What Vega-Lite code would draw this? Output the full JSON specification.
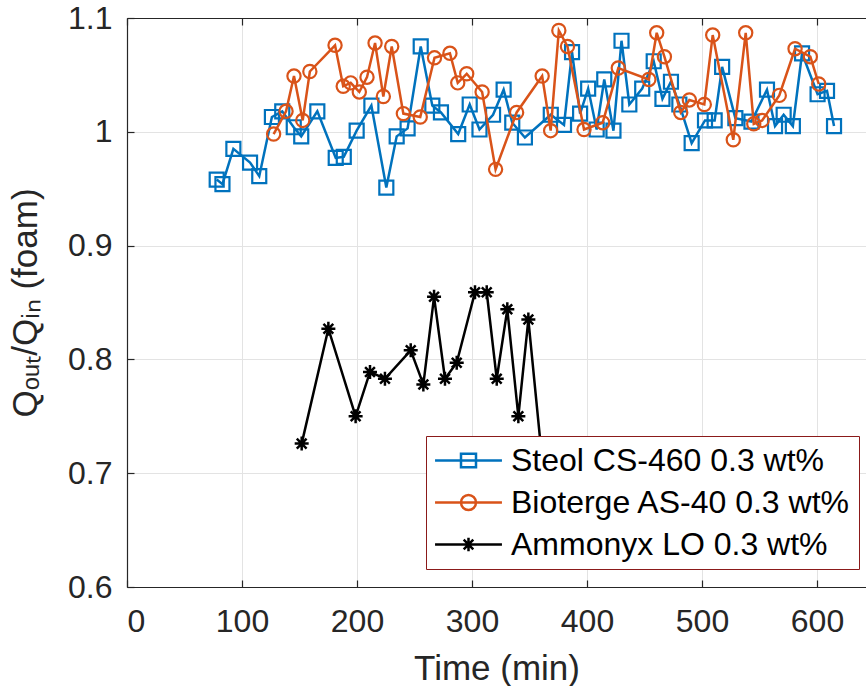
{
  "$schema": "https://vega.github.io/schema/vega-lite/v6.json",
  "width": 739,
  "height": 569,
  "autosize": {"type": "none"},
  "padding": {"left": 127, "top": 18, "right": 0, "bottom": 99},
  "background": "white",
  "config": {
    "view": {"stroke": null},
    "font": "Liberation Sans",
    "axis": {
      "labelFont": "Liberation Sans",
      "labelFontSize": 32,
      "labelColor": "#262626",
      "titleFont": "Liberation Sans",
      "titleFontSize": 35,
      "titleFontWeight": "normal",
      "titleColor": "#262626",
      "gridColor": "#e3e3e3",
      "gridWidth": 1,
      "domainColor": "#262626",
      "domainWidth": 1.2,
      "tickColor": "#262626",
      "tickWidth": 1.2,
      "tickSize": -7
    }
  },
  "data": {
    "values": [
      {"s": "Steol CS-460 0.3 wt%", "t": 78, "v": 0.958},
      {"s": "Steol CS-460 0.3 wt%", "t": 83, "v": 0.954},
      {"s": "Steol CS-460 0.3 wt%", "t": 92.5, "v": 0.985},
      {"s": "Steol CS-460 0.3 wt%", "t": 107, "v": 0.973},
      {"s": "Steol CS-460 0.3 wt%", "t": 115, "v": 0.961},
      {"s": "Steol CS-460 0.3 wt%", "t": 126, "v": 1.013},
      {"s": "Steol CS-460 0.3 wt%", "t": 135, "v": 1.018},
      {"s": "Steol CS-460 0.3 wt%", "t": 145, "v": 1.004},
      {"s": "Steol CS-460 0.3 wt%", "t": 151.5, "v": 0.996},
      {"s": "Steol CS-460 0.3 wt%", "t": 165.5, "v": 1.018},
      {"s": "Steol CS-460 0.3 wt%", "t": 181.5, "v": 0.977},
      {"s": "Steol CS-460 0.3 wt%", "t": 188.5, "v": 0.978},
      {"s": "Steol CS-460 0.3 wt%", "t": 199.7, "v": 1.001},
      {"s": "Steol CS-460 0.3 wt%", "t": 212.5, "v": 1.023},
      {"s": "Steol CS-460 0.3 wt%", "t": 225.5, "v": 0.951},
      {"s": "Steol CS-460 0.3 wt%", "t": 234.5, "v": 0.996},
      {"s": "Steol CS-460 0.3 wt%", "t": 244, "v": 1.003},
      {"s": "Steol CS-460 0.3 wt%", "t": 255.4, "v": 1.075},
      {"s": "Steol CS-460 0.3 wt%", "t": 265.5, "v": 1.023},
      {"s": "Steol CS-460 0.3 wt%", "t": 273, "v": 1.017},
      {"s": "Steol CS-460 0.3 wt%", "t": 288, "v": 0.998},
      {"s": "Steol CS-460 0.3 wt%", "t": 298, "v": 1.024},
      {"s": "Steol CS-460 0.3 wt%", "t": 306.5, "v": 1.002},
      {"s": "Steol CS-460 0.3 wt%", "t": 318.3, "v": 1.015},
      {"s": "Steol CS-460 0.3 wt%", "t": 327.5, "v": 1.037},
      {"s": "Steol CS-460 0.3 wt%", "t": 335, "v": 1.008},
      {"s": "Steol CS-460 0.3 wt%", "t": 346, "v": 0.995},
      {"s": "Steol CS-460 0.3 wt%", "t": 368.5, "v": 1.015},
      {"s": "Steol CS-460 0.3 wt%", "t": 380, "v": 1.006},
      {"s": "Steol CS-460 0.3 wt%", "t": 387, "v": 1.07},
      {"s": "Steol CS-460 0.3 wt%", "t": 394, "v": 1.016},
      {"s": "Steol CS-460 0.3 wt%", "t": 401, "v": 1.038},
      {"s": "Steol CS-460 0.3 wt%", "t": 408.4, "v": 1.002},
      {"s": "Steol CS-460 0.3 wt%", "t": 415, "v": 1.046},
      {"s": "Steol CS-460 0.3 wt%", "t": 423, "v": 1.001},
      {"s": "Steol CS-460 0.3 wt%", "t": 430, "v": 1.08},
      {"s": "Steol CS-460 0.3 wt%", "t": 436.8, "v": 1.024},
      {"s": "Steol CS-460 0.3 wt%", "t": 448, "v": 1.038},
      {"s": "Steol CS-460 0.3 wt%", "t": 458, "v": 1.062},
      {"s": "Steol CS-460 0.3 wt%", "t": 465.6, "v": 1.029},
      {"s": "Steol CS-460 0.3 wt%", "t": 473, "v": 1.044},
      {"s": "Steol CS-460 0.3 wt%", "t": 480.3, "v": 1.024},
      {"s": "Steol CS-460 0.3 wt%", "t": 491, "v": 0.99},
      {"s": "Steol CS-460 0.3 wt%", "t": 502.6, "v": 1.01},
      {"s": "Steol CS-460 0.3 wt%", "t": 511, "v": 1.01},
      {"s": "Steol CS-460 0.3 wt%", "t": 517.5, "v": 1.057},
      {"s": "Steol CS-460 0.3 wt%", "t": 529, "v": 1.012},
      {"s": "Steol CS-460 0.3 wt%", "t": 543, "v": 1.009},
      {"s": "Steol CS-460 0.3 wt%", "t": 556.5, "v": 1.037},
      {"s": "Steol CS-460 0.3 wt%", "t": 563.5, "v": 1.005},
      {"s": "Steol CS-460 0.3 wt%", "t": 571, "v": 1.015},
      {"s": "Steol CS-460 0.3 wt%", "t": 579, "v": 1.005},
      {"s": "Steol CS-460 0.3 wt%", "t": 587, "v": 1.069},
      {"s": "Steol CS-460 0.3 wt%", "t": 600.5, "v": 1.033},
      {"s": "Steol CS-460 0.3 wt%", "t": 608.7, "v": 1.036},
      {"s": "Steol CS-460 0.3 wt%", "t": 614.8, "v": 1.005},
      {"s": "Bioterge AS-40 0.3 wt%", "t": 127.5, "v": 0.998},
      {"s": "Bioterge AS-40 0.3 wt%", "t": 138.3, "v": 1.018},
      {"s": "Bioterge AS-40 0.3 wt%", "t": 145.2, "v": 1.049},
      {"s": "Bioterge AS-40 0.3 wt%", "t": 152.8, "v": 1.01},
      {"s": "Bioterge AS-40 0.3 wt%", "t": 159, "v": 1.053},
      {"s": "Bioterge AS-40 0.3 wt%", "t": 180.9, "v": 1.076},
      {"s": "Bioterge AS-40 0.3 wt%", "t": 188, "v": 1.04},
      {"s": "Bioterge AS-40 0.3 wt%", "t": 194.5, "v": 1.043},
      {"s": "Bioterge AS-40 0.3 wt%", "t": 202, "v": 1.035},
      {"s": "Bioterge AS-40 0.3 wt%", "t": 208.7, "v": 1.048},
      {"s": "Bioterge AS-40 0.3 wt%", "t": 215.7, "v": 1.078},
      {"s": "Bioterge AS-40 0.3 wt%", "t": 222.9, "v": 1.031},
      {"s": "Bioterge AS-40 0.3 wt%", "t": 230.2, "v": 1.075},
      {"s": "Bioterge AS-40 0.3 wt%", "t": 240.3, "v": 1.016},
      {"s": "Bioterge AS-40 0.3 wt%", "t": 255, "v": 1.013},
      {"s": "Bioterge AS-40 0.3 wt%", "t": 267.4, "v": 1.065},
      {"s": "Bioterge AS-40 0.3 wt%", "t": 280.8, "v": 1.069},
      {"s": "Bioterge AS-40 0.3 wt%", "t": 287.6, "v": 1.043},
      {"s": "Bioterge AS-40 0.3 wt%", "t": 295.4, "v": 1.051},
      {"s": "Bioterge AS-40 0.3 wt%", "t": 308.8, "v": 1.035},
      {"s": "Bioterge AS-40 0.3 wt%", "t": 320.5, "v": 0.967},
      {"s": "Bioterge AS-40 0.3 wt%", "t": 338.8, "v": 1.017},
      {"s": "Bioterge AS-40 0.3 wt%", "t": 361, "v": 1.049},
      {"s": "Bioterge AS-40 0.3 wt%", "t": 368.4, "v": 1.001},
      {"s": "Bioterge AS-40 0.3 wt%", "t": 375.5, "v": 1.089},
      {"s": "Bioterge AS-40 0.3 wt%", "t": 383, "v": 1.075},
      {"s": "Bioterge AS-40 0.3 wt%", "t": 397.4, "v": 1.002},
      {"s": "Bioterge AS-40 0.3 wt%", "t": 413.6, "v": 1.008},
      {"s": "Bioterge AS-40 0.3 wt%", "t": 427.2, "v": 1.056},
      {"s": "Bioterge AS-40 0.3 wt%", "t": 453.8, "v": 1.046},
      {"s": "Bioterge AS-40 0.3 wt%", "t": 460.6, "v": 1.087},
      {"s": "Bioterge AS-40 0.3 wt%", "t": 467.3, "v": 1.066},
      {"s": "Bioterge AS-40 0.3 wt%", "t": 481.5, "v": 1.017},
      {"s": "Bioterge AS-40 0.3 wt%", "t": 489, "v": 1.028},
      {"s": "Bioterge AS-40 0.3 wt%", "t": 502, "v": 1.024},
      {"s": "Bioterge AS-40 0.3 wt%", "t": 509.3, "v": 1.085},
      {"s": "Bioterge AS-40 0.3 wt%", "t": 527.2, "v": 0.993},
      {"s": "Bioterge AS-40 0.3 wt%", "t": 538, "v": 1.087},
      {"s": "Bioterge AS-40 0.3 wt%", "t": 545, "v": 1.007},
      {"s": "Bioterge AS-40 0.3 wt%", "t": 552.3, "v": 1.01},
      {"s": "Bioterge AS-40 0.3 wt%", "t": 567.2, "v": 1.032},
      {"s": "Bioterge AS-40 0.3 wt%", "t": 580.9, "v": 1.073},
      {"s": "Bioterge AS-40 0.3 wt%", "t": 594.2, "v": 1.066},
      {"s": "Bioterge AS-40 0.3 wt%", "t": 601.5, "v": 1.042},
      {"s": "Ammonyx LO 0.3 wt%", "t": 151.9, "v": 0.726},
      {"s": "Ammonyx LO 0.3 wt%", "t": 175.1, "v": 0.827},
      {"s": "Ammonyx LO 0.3 wt%", "t": 198.8, "v": 0.75},
      {"s": "Ammonyx LO 0.3 wt%", "t": 211.3, "v": 0.789},
      {"s": "Ammonyx LO 0.3 wt%", "t": 224.3, "v": 0.783},
      {"s": "Ammonyx LO 0.3 wt%", "t": 246.7, "v": 0.808},
      {"s": "Ammonyx LO 0.3 wt%", "t": 257.7, "v": 0.778},
      {"s": "Ammonyx LO 0.3 wt%", "t": 267, "v": 0.855},
      {"s": "Ammonyx LO 0.3 wt%", "t": 276.5, "v": 0.783},
      {"s": "Ammonyx LO 0.3 wt%", "t": 286.7, "v": 0.797},
      {"s": "Ammonyx LO 0.3 wt%", "t": 302.6, "v": 0.859},
      {"s": "Ammonyx LO 0.3 wt%", "t": 312.8, "v": 0.859},
      {"s": "Ammonyx LO 0.3 wt%", "t": 321.5, "v": 0.783},
      {"s": "Ammonyx LO 0.3 wt%", "t": 330.7, "v": 0.844},
      {"s": "Ammonyx LO 0.3 wt%", "t": 340.3, "v": 0.75},
      {"s": "Ammonyx LO 0.3 wt%", "t": 349, "v": 0.835},
      {"s": "Ammonyx LO 0.3 wt%", "t": 366, "v": 0.66}
    ]
  },
  "encoding": {
    "y": {
      "field": "v", "type": "quantitative",
      "scale": {"domain": [0.6, 1.1], "nice": false, "zero": false},
      "axis": {
        "orient": "left",
        "values": [0.6, 0.7, 0.8, 0.9, 1.0, 1.1],
        "format": "~g",
        "labelPadding": 22,
        "title": "Qₒᵤₜ/Qᵢₙ (foam)",
        "titlePadding": 24
      }
    },
    "color": {
      "field": "s", "type": "nominal",
      "scale": {
        "domain": ["Steol CS-460 0.3 wt%", "Bioterge AS-40 0.3 wt%", "Ammonyx LO 0.3 wt%"],
        "range": ["#0072BD", "#D95319", "#000000"]
      },
      "legend": {
        "orient": "none",
        "legendX": 299,
        "legendY": 418,
        "title": null,
        "labelFont": "Liberation Sans",
        "labelFontSize": 32,
        "labelColor": "#000000",
        "labelLimit": 0,
        "labelOffset": 26,
        "symbolOffset": 18,
        "symbolSize": 900,
        "symbolStrokeWidth": 2.5,
        "symbolFillColor": "transparent",
        "rowPadding": 9,
        "padding": 8,
        "fillColor": "white",
        "strokeColor": "#8b1a1a",
        "encode": {
          "symbols": {
            "update": {
              "shape": {"signal": "datum.value === 'Steol CS-460 0.3 wt%' ? 'M-2.23,0H2.23M-0.5,-0.45H0.5V0.45H-0.5Z' : datum.value === 'Bioterge AS-40 0.3 wt%' ? 'M-2.23,0H2.23M0.5,0A0.5,0.5,0,1,1,-0.5,0A0.5,0.5,0,1,1,0.5,0Z' : 'M-2.23,0H2.23M0,-0.45V0.45M-0.32,-0.32L0.32,0.32M-0.32,0.32L0.32,-0.32'"},
              "fill": {"value": "transparent"},
              "strokeWidth": {"value": 2.5}
            }
          }
        }
      }
    }
  },
  "layer": [
    {
      "transform": [{"filter": "datum.s === 'Steol CS-460 0.3 wt%'"}],
      "mark": {"type": "line", "strokeWidth": 2.5, "point": {"filled": false, "shape": "square", "size": 196, "strokeWidth": 2.2}},
      "encoding": {
        "x": {
          "field": "t", "type": "quantitative",
          "scale": {"domain": [0, 642.6], "nice": false, "zero": false},
          "axis": {
            "orient": "bottom",
            "values": [0, 100, 200, 300, 400, 500, 600],
            "format": "d",
            "labelPadding": 26,
            "title": "Time (min)",
            "titlePadding": 14
          }
        }
      }
    },
    {
      "transform": [{"filter": "datum.s === 'Bioterge AS-40 0.3 wt%'"}],
      "mark": {"type": "line", "strokeWidth": 2.5, "point": {"filled": false, "shape": "circle", "size": 175, "strokeWidth": 2.2}},
      "encoding": {
        "x": {
          "field": "t", "type": "quantitative",
          "scale": {"domain": [0, 642.6], "nice": false, "zero": false},
          "axis": null
        }
      }
    },
    {
      "transform": [{"filter": "datum.s === 'Ammonyx LO 0.3 wt%'"}],
      "mark": {"type": "line", "strokeWidth": 2.5, "point": {"filled": false, "shape": "M0,-1V1M-1,0H1M-0.7,-0.7L0.7,0.7M-0.7,0.7L0.7,-0.7", "size": 196, "strokeWidth": 2.5}},
      "encoding": {
        "x": {
          "field": "t", "type": "quantitative",
          "scale": {"domain": [0, 642.6], "nice": false, "zero": false},
          "axis": {
            "orient": "top",
            "values": [0, 100, 200, 300, 400, 500, 600],
            "labels": false,
            "grid": false,
            "title": null
          }
        }
      }
    }
  ]
}
